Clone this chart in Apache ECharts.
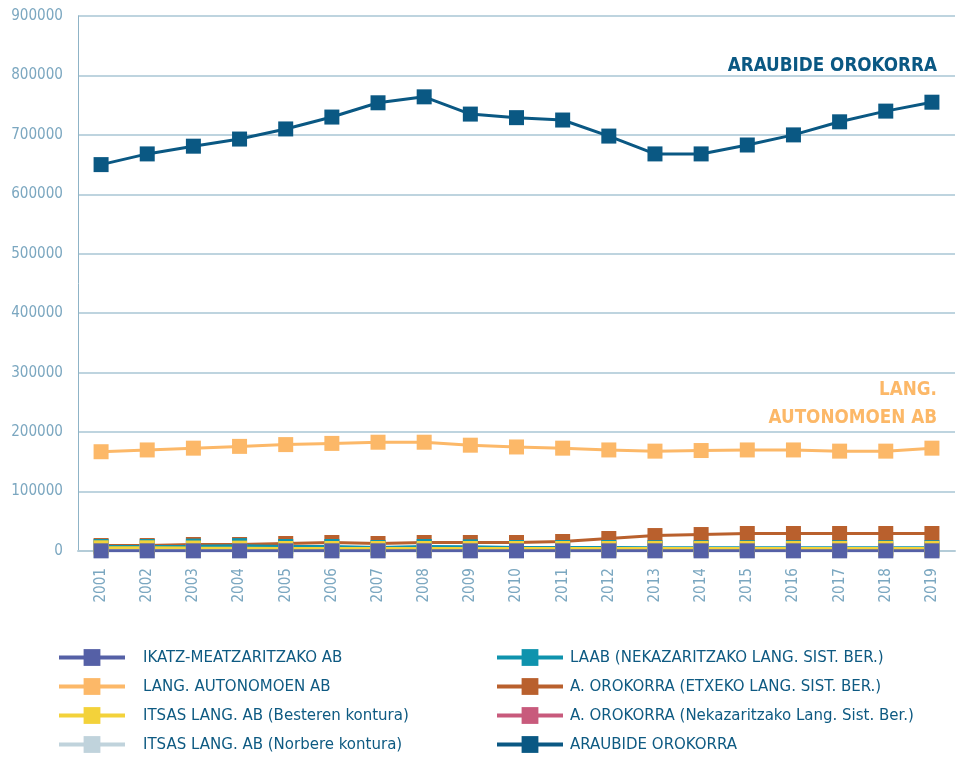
<!DOCTYPE html>
<html lang="eu">
<head>
<meta charset="UTF-8">
<title>Afiliazioa araubideka</title>
<script src="https://cdn.jsdelivr.net/npm/echarts@6/dist/echarts.min.js"></script>
<style>
  html, body { margin: 0; padding: 0; background: #fff; }
  #chart { width: 976px; height: 758px; }
</style>
</head>
<body>
<div id="chart"></div>
<script>
  // urteak
  var years = ['2001','2002','2003','2004','2005','2006','2007','2008','2009','2010',
               '2011','2012','2013','2014','2015','2016','2017','2018','2019'];

  // serieak (irudiaren gainean irakurritako balioak)
  var ikatz      = [300,300,300,300,300,300,300,300,300,300,300,300,300,300,300,300,300,300,300];
  var autonomoak = [167000,170000,173000,176000,179000,181000,183000,183000,178000,175000,
                    173000,170000,168000,169000,170000,170000,168000,168000,173000];
  var itsasBest  = [5400,5400,5000,4800,4200,4200,4200,4200,4200,4200,4200,4200,4200,4200,4200,4200,4200,4200,4200];
  var itsasNorb  = [700,700,700,700,700,700,700,700,700,700,700,700,700,700,700,700,700,700,700];
  var laab       = [7600,7600,8200,9000,7600,7600,5900,7600,7000,5900,5900,5900,5500,5500,5500,5500,5500,5500,5500];
  var etxeko     = [9200,9200,10900,10900,12600,14300,12600,14300,14300,14300,16000,21000,26000,27700,29400,29400,29400,29400,29400];
  var nekaz      = [null,null,null,null,null,null,null,null,null,null,null,3000,3000,3000,3000,3000,3000,3000,3000];
  var araubide   = [650000,668000,681000,693000,710000,730000,754000,764000,735000,729000,
                    725000,698000,668000,668000,683000,700000,722000,740000,755000];

  var names = ['IKATZ-MEATZARITZAKO AB','LANG. AUTONOMOEN AB','ITSAS LANG. AB (Besteren kontura)',
               'ITSAS LANG. AB (Norbere kontura)','LAAB (NEKAZARITZAKO LANG. SIST. BER.)',
               'A. OROKORRA (ETXEKO LANG. SIST. BER.)','A. OROKORRA (Nekazaritzako Lang. Sist. Ber.)',
               'ARAUBIDE OROKORRA'];
  var datas  = [ikatz, autonomoak, itsasBest, itsasNorb, laab, etxeko, nekaz, araubide];
  var colors = ['#5560a6','#fcb868','#f3d23a','#c0d3dc','#0f93ad','#b9602d','#c85a7c','#0a5883'];

  // letra-tipo estu bat aukeratu eta tamaina zabaleraren arabera doitu
  var ctx = document.createElement('canvas').getContext('2d');
  function width(txt, fam, w) { ctx.font = (w || 'normal') + ' 40px ' + fam; return ctx.measureText(txt).width; }
  function has(f) { return width('IKATZ-MEATZARITZAKO AB', '"' + f + '", monospace') !==
                           width('IKATZ-MEATZARITZAKO AB', 'monospace'); }
  var fam = ['Liberation Sans Narrow', 'DejaVu Sans Condensed', 'Roboto'].filter(has)[0] || 'sans-serif';
  var font = '"' + fam + '", sans-serif';
  function fit(txt, target, w) { return Math.round(40 * target / width(txt, font, w) * 10) / 10; }

  var legendSize = Math.min(22, fit('IKATZ-MEATZARITZAKO AB', 200));
  var tickSize = Math.min(20, fit('900000', 52));
  var noteSize = Math.min(24, fit('ARAUBIDE OROKORRA', 210, 'bold'));

  // azkena lehenik marrazten da, IKATZ gainean gera dadin
  var series = [];
  for (var i = names.length - 1; i >= 0; i--) {
    series.push({
      name: names[i],
      type: 'line',
      data: datas[i],
      symbol: 'rect',
      symbolSize: 15,
      lineStyle: { width: 3, color: colors[i] },
      itemStyle: { color: colors[i] }
    });
  }

  var legendBase = {
    orient: 'vertical',
    padding: 0,
    itemWidth: 66,
    itemHeight: 21,
    itemGap: 12,
    lineStyle: { width: 4 },
    textStyle: { fontFamily: font, fontSize: legendSize, color: '#0e5a82' }
  };

  var chart = echarts.init(document.getElementById('chart'));
  chart.setOption({
    animation: false,
    grid: { left: 78, right: 21, top: 16, bottom: 207 },
    legend: [
      Object.assign({}, legendBase, {
        left: 57, top: 649, height: 109,
        data: names.slice(0, 4),
        textStyle: Object.assign({}, legendBase.textStyle, { padding: [0, 0, 0, 13] })
      }),
      Object.assign({}, legendBase, {
        left: 495, top: 649, height: 109,
        data: names.slice(4),
        textStyle: Object.assign({}, legendBase.textStyle, { padding: [0, 0, 0, 2] })
      })
    ],
    xAxis: {
      type: 'category',
      data: years,
      boundaryGap: true,
      axisLine: { lineStyle: { color: '#b4ccd8', width: 2 } },
      axisTick: { show: false },
      axisLabel: { rotate: 90, margin: 17, fontFamily: font, fontSize: tickSize, color: '#7ba7c0' }
    },
    yAxis: {
      type: 'value',
      min: 0, max: 900000, interval: 100000,
      axisLine: { show: true, lineStyle: { color: '#8fb3c6', width: 1 } },
      axisTick: { show: false },
      axisLabel: { margin: 15, fontFamily: font, fontSize: tickSize, color: '#7ba7c0',
                   formatter: function (v) { return String(v); } },
      splitLine: { lineStyle: { color: '#a9c6d4', width: 1.5 } }
    },
    graphic: [
      { type: 'text', right: 39, top: 57,
        style: { text: 'ARAUBIDE OROKORRA', fill: '#0a5883', font: 'bold ' + noteSize + 'px ' + font } },
      { type: 'text', right: 39, top: 381,
        style: { text: 'LANG.', fill: '#fcb868', font: 'bold ' + noteSize + 'px ' + font } },
      { type: 'text', right: 39, top: 409,
        style: { text: 'AUTONOMOEN AB', fill: '#fcb868', font: 'bold ' + noteSize + 'px ' + font } }
    ],
    series: series
  });
</script>
</body>
</html>
